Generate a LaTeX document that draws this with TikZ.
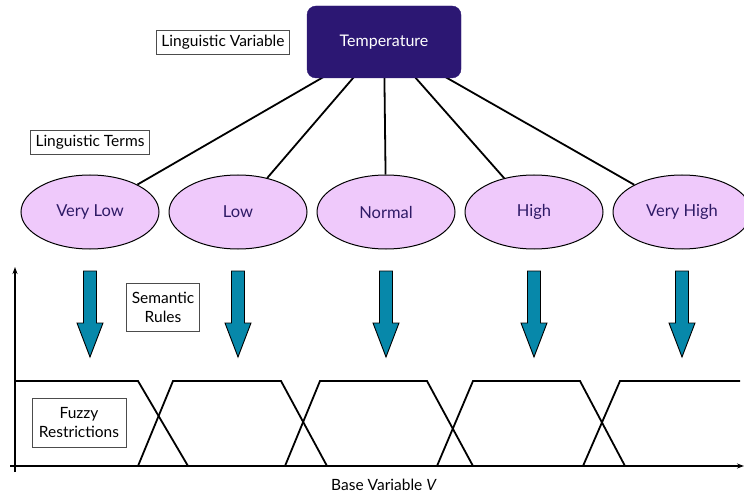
\documentclass[tikz,border=0pt]{standalone}
\usepackage{fontspec}
\setmainfont{Lato}
\usepackage{tikz}
\usetikzlibrary{positioning, arrows.meta, shapes.geometric, calc, backgrounds}
\definecolor{tempblue}{HTML}{2C1773}
\definecolor{termfill}{HTML}{EFC9FB}
\definecolor{termtext}{HTML}{2E1A66}
\definecolor{rulearr}{HTML}{0788AA}

\begin{document}
\begin{tikzpicture}[
  x=1pt, y=1pt,
  varbox/.style={
    rectangle, rounded corners=9pt, fill=tempblue, draw=tempblue,
    minimum width=154pt, minimum height=72pt,
    text=white, font=\fontsize{16}{18}\selectfont
  },
  term/.style={
    ellipse, draw=black, line width=1pt, fill=termfill,
    minimum width=138pt, minimum height=74pt, inner sep=0pt,
    text=termtext, font=\fontsize{16.5}{18}\selectfont
  },
  tag/.style={
    rectangle, draw=black!70, line width=0.7pt, fill=white,
    font=\fontsize{15.5}{19}\selectfont, align=center,
    inner xsep=5pt, inner ysep=5pt
  },
  link/.style={line width=1.8pt},
  rulearrow/.style={draw=black, line width=0.9pt, fill=rulearr},
  axis/.style={line width=1.4pt, -{Stealth[length=7pt, width=5pt]}},
  member/.style={line width=1.8pt, line join=miter},
]
\useasboundingbox (0,0) rectangle (744,496);

% Linguistic variable
\node[varbox] (temp) at (384,454) {Temperature};
\node[tag] (lvar) at (223,453.5) {Linguistic Variable};

% Linguistic terms
\node[term] (vl) at (90,284) {Very Low};
\node[term, right=9pt of vl] (lo) {Low};
\node[term, right=9pt of lo] (no) {Normal};
\node[term, right=9pt of no] (hi) {High};
\node[term, right=9pt of hi] (vh) {Very High};
\node[tag] (lterms) at (90,354) {Linguistic Terms};

% Links, behind the box
\begin{scope}[on background layer]
\foreach \t in {vl,lo,no,hi,vh}
  \draw[link] (temp.center) -- (\t);
\end{scope}

% Semantic rules
\foreach \t in {vl,lo,no,hi,vh}
  \draw[rulearrow] ([xshift=-6.5pt, yshift=-59pt]\t.center)
    -- ++(0,-52) -- ++(-6.5,0) -- ++(13,-34) -- ++(13,34)
    -- ++(-6.5,0) -- ++(0,52) -- cycle;
\node[tag, minimum width=72pt, minimum height=48pt] (rules) at (163,189)
  {Semantic\\Rules};

% Axes
\coordinate (o) at (15,30);
\coordinate (ytop) at (15,229);
\coordinate (xend) at (744,30);
\draw[axis] ([yshift=-6pt]o) -- (ytop);
\draw[axis] ([xshift=-5pt]o) -- (xend);

% Fuzzy restrictions
\draw[member] (15,115) -- (138,115) -- (188,30);
\draw[member] (138,30) -- (173,115) -- (281,115) -- (327,30);
\draw[member] (285,30) -- (320,115) -- (427,115) -- (473,30);
\draw[member] (437,30) -- (473,115) -- (580,115) -- (625,30);
\draw[member] (583,30) -- (620,115) -- (740,115);
\node[tag, minimum width=94pt, minimum height=49pt] (fuzzy) at (79,73.5)
  {Fuzzy\\Restrictions};

\node[font=\fontsize{15.5}{18}\selectfont] (base) at (384,11)
  {Base Variable \textit{V}};

\end{tikzpicture}
\end{document}
